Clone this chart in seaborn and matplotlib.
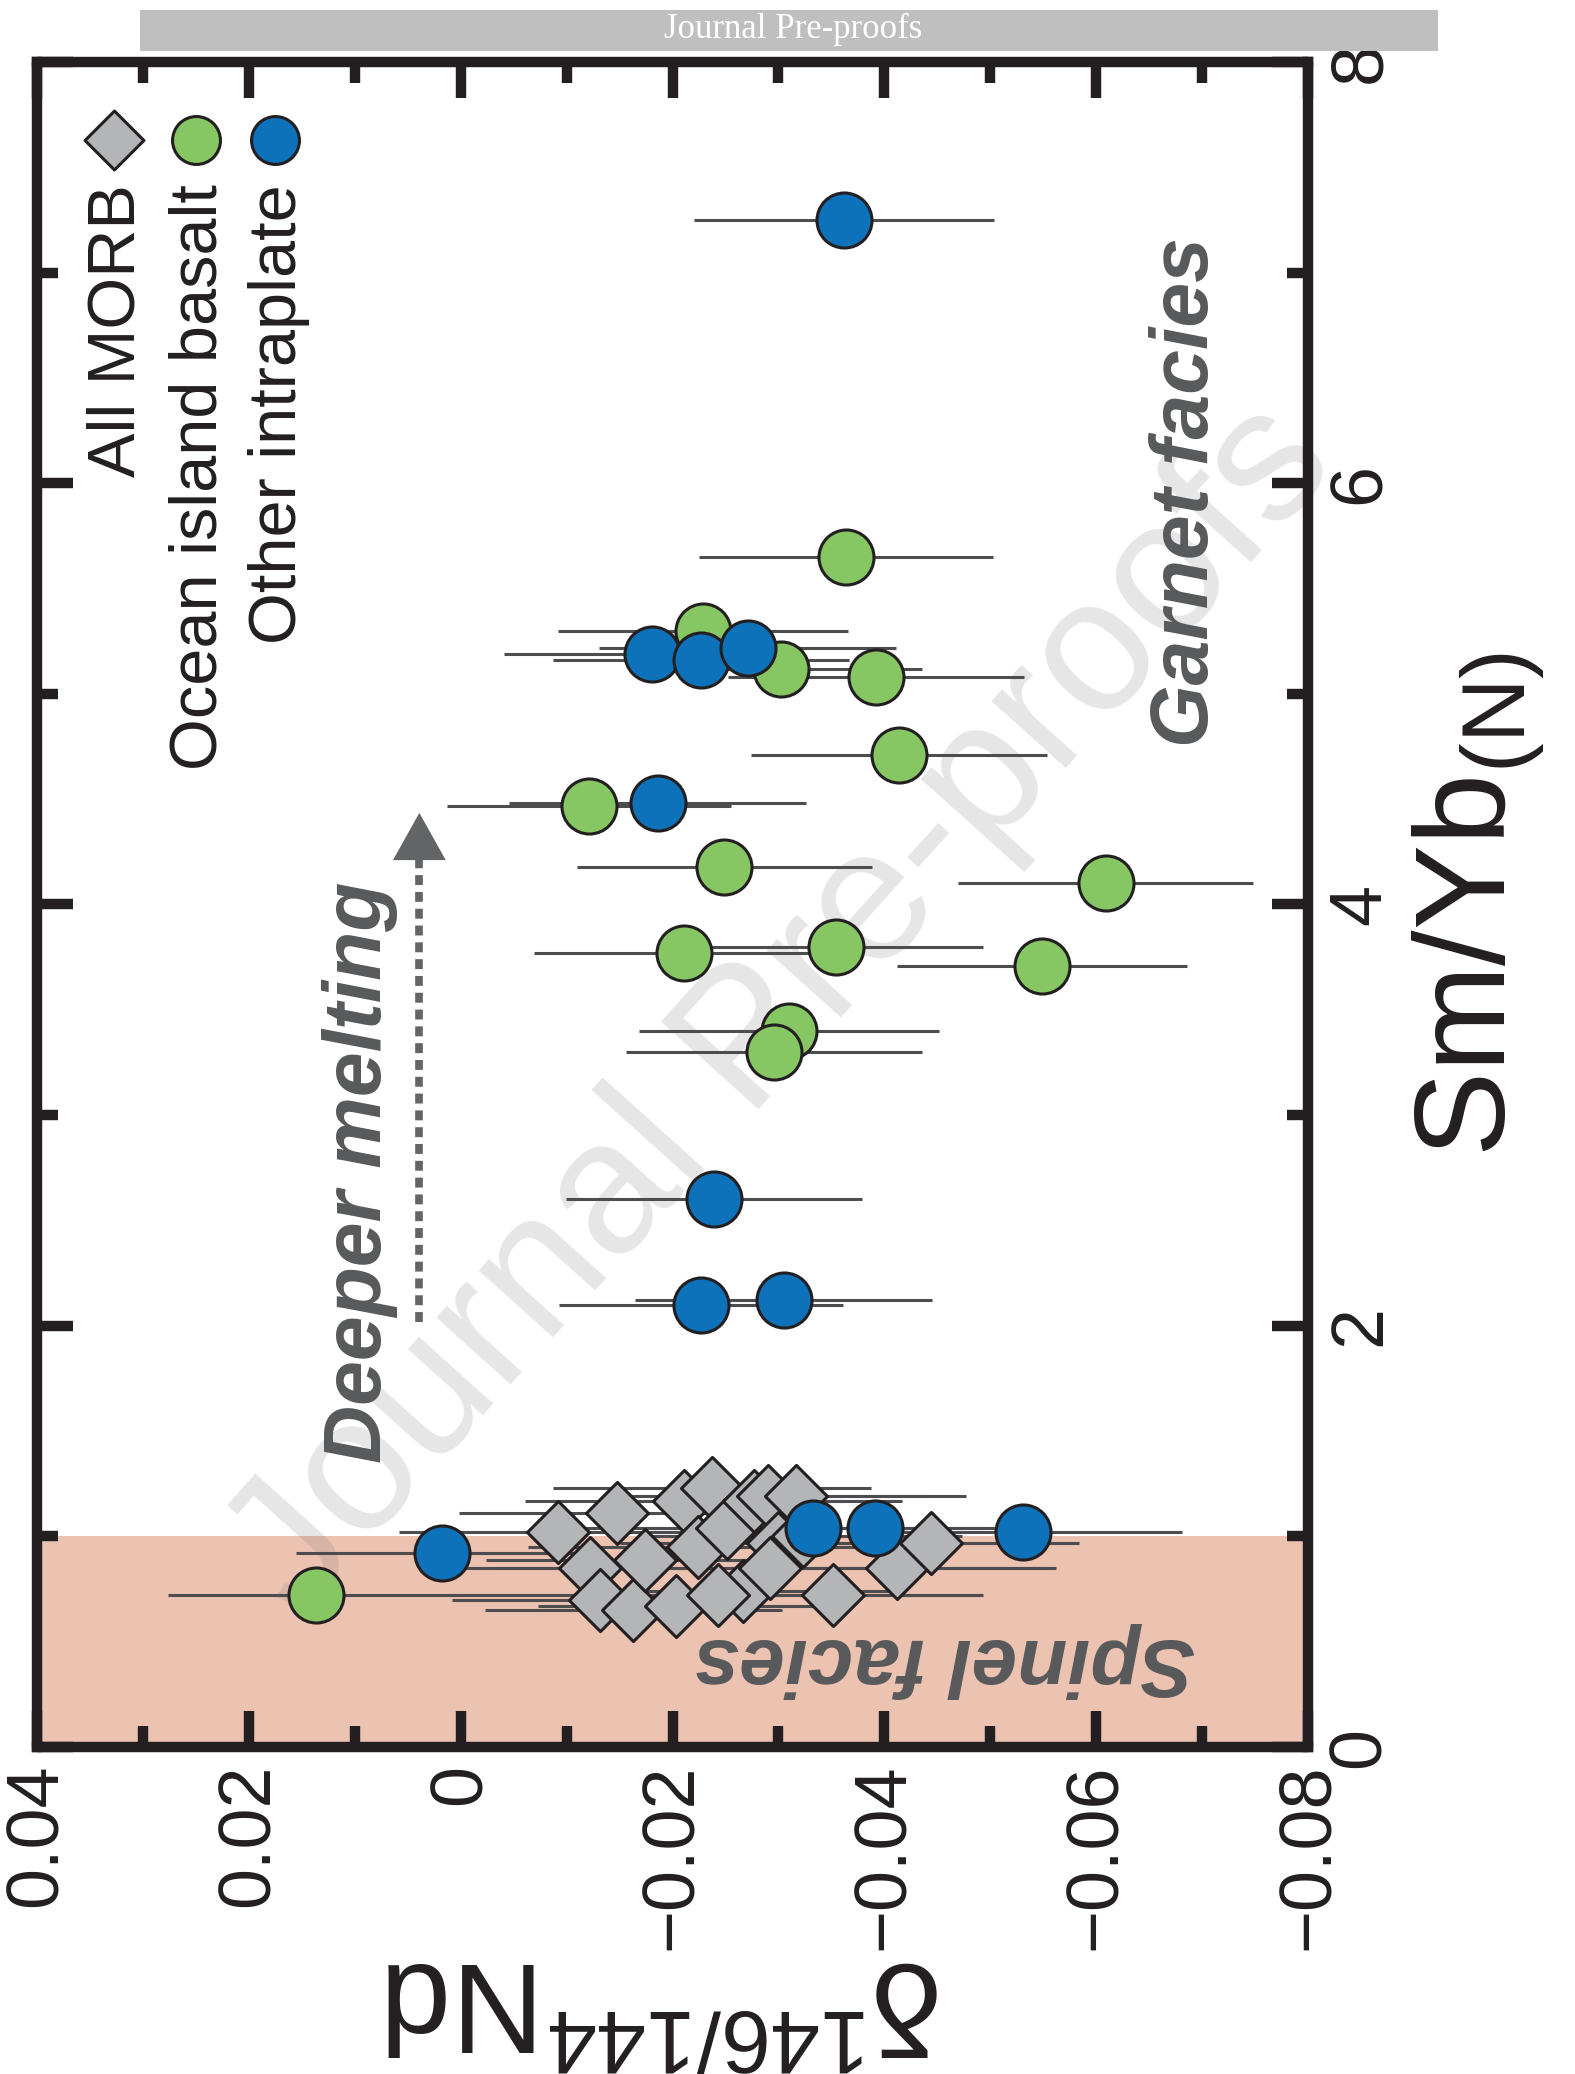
import matplotlib
matplotlib.use("Agg")
import matplotlib.pyplot as plt
import seaborn as sns
import pandas as pd
from matplotlib.patches import Rectangle, FancyArrowPatch
from matplotlib.ticker import MultipleLocator

# ---------------- data ----------------
# All MORB (grey diamonds)
morb_delta = [-0.0092, -0.0148, -0.0122, -0.0132, -0.0163, -0.0174, -0.0203, -0.0211,
              -0.0237, -0.0224, -0.0251, -0.0277, -0.0290, -0.0317, -0.0267, -0.0300,
              -0.0323, -0.0352, -0.0412, -0.0444, -0.0292, -0.0243]
morb_smyb = [1.02, 1.11, 0.85, 0.70, 0.65, 0.89, 0.67, 1.17,
             1.23, 0.95, 1.04, 1.17, 1.19, 1.19, 0.74, 0.97,
             1.00, 0.72, 0.85, 0.97, 0.85, 0.72]
morb_err = [0.015, 0.015, 0.015, 0.014, 0.014, 0.015, 0.013, 0.015,
            0.015, 0.016, 0.015, 0.014, 0.015, 0.016, 0.014, 0.015,
            0.015, 0.014, 0.015, 0.014, 0.026, 0.025]

# Ocean island basalt (green circles)
oib_delta = [-0.0364, -0.0229, -0.0302, -0.0392, -0.0414, -0.0121, -0.0249,
             -0.0609, -0.0211, -0.0354, -0.0549, -0.0310, -0.0296, 0.0137]
oib_smyb = [5.65, 5.30, 5.12, 5.08, 4.71, 4.47, 4.18,
            4.10, 3.77, 3.80, 3.71, 3.40, 3.30, 0.72]
oib_err = [0.0139, 0.0137, 0.0134, 0.0140, 0.0140, 0.0134, 0.0139,
           0.0139, 0.0142, 0.0139, 0.0137, 0.0142, 0.0140, 0.0139]

# Other intraplate (blue circles)
ip_delta = [-0.0362, -0.0181, -0.0227, -0.0271, -0.0186, -0.0239,
            -0.0227, -0.0305, 0.0018, -0.0333, -0.0391, -0.0531]
ip_smyb = [7.25, 5.19, 5.16, 5.22, 4.48, 2.60,
           2.10, 2.12, 0.92, 1.04, 1.04, 1.02]
ip_err = [0.0142, 0.0140, 0.0140, 0.0140, 0.0140, 0.0140,
          0.0134, 0.0140, 0.0137, 0.0160, 0.0150, 0.0150]

group_names = ["All MORB", "Ocean island basalt", "Other intraplate"]
spinel_limits = [0, 1]

xticks = [0.04, 0.02, 0.0, -0.02, -0.04, -0.06, -0.08]
xtick_labels = ["0.04", "0.02", "0", "\u22120.02", "\u22120.04", "\u22120.06", "\u22120.08"]
yticks = [0, 2, 4, 6, 8]
ytick_labels = ["0", "2", "4", "6", "8"]

# ---------------- style ----------------
sns.set_theme(style="white")
plt.rcParams["font.family"] = ["Liberation Sans", "DejaVu Sans"]
plt.rcParams["mathtext.fontset"] = "custom"
plt.rcParams["mathtext.rm"] = "Liberation Sans"
plt.rcParams["mathtext.it"] = "Liberation Sans:italic"
plt.rcParams["mathtext.bf"] = "Liberation Sans:bold"
plt.rcParams["mathtext.default"] = "regular"

INK = "#231F20"
GREY_TXT = "#58595B"
ERR_C = "#4D4D4F"
C_MORB = "#B3B5B7"
C_OIB = "#86C763"
C_IP = "#0E72BA"
C_SPINEL = "#ECC2B1"

W, H = 1575, 2074
L, R, T, B = 37, 1308, 62, 1747
fig = plt.figure(figsize=(W / 100, H / 100), dpi=100)
fig.patch.set_facecolor("white")
ax = fig.add_axes([L / W, 1 - B / H, (R - L) / W, (B - T) / H])
ax.set_facecolor("white")

# spinel field
ax.axhspan(spinel_limits[0], spinel_limits[1], color=C_SPINEL, lw=0, zorder=0)

df = pd.concat([
    pd.DataFrame({"delta": morb_delta, "smyb": morb_smyb, "err": morb_err, "group": group_names[0]}),
    pd.DataFrame({"delta": oib_delta, "smyb": oib_smyb, "err": oib_err, "group": group_names[1]}),
    pd.DataFrame({"delta": ip_delta, "smyb": ip_smyb, "err": ip_err, "group": group_names[2]}),
], ignore_index=True)

for grp in group_names:
    g = df[df["group"] == grp]
    ax.errorbar(g["delta"], g["smyb"], xerr=g["err"], fmt="none", ecolor=ERR_C,
                elinewidth=2.2, capsize=0, zorder=2)

styles = [(group_names[0], "D", 1000, C_MORB),
          (group_names[1], "o", 1570, C_OIB),
          (group_names[2], "o", 1570, C_IP)]
for grp, mk, size, col in styles:
    sns.scatterplot(data=df[df["group"] == grp], x="delta", y="smyb", marker=mk, s=size,
                    color=col, edgecolor=INK, linewidth=2.2, zorder=3, legend=False, ax=ax)

# axes limits / ticks
ax.set_xlim(0.04, -0.08)
ax.set_ylim(0, 8)
ax.set_xticks(xticks)
ax.set_xticklabels(xtick_labels, rotation=90)
ax.xaxis.set_minor_locator(MultipleLocator(0.01))
ax.set_yticks(yticks)
ax.set_yticklabels(ytick_labels, rotation=90, va="center")
ax.yaxis.set_minor_locator(MultipleLocator(1))
ax.tick_params(which="both", direction="in", top=True, bottom=True, left=True, right=True,
               width=7.5, color=INK)
ax.tick_params(which="major", length=26)
ax.tick_params(which="minor", length=15)
ax.tick_params(axis="x", labelsize=53, pad=12, labelbottom=True, labeltop=False, labelcolor=INK)
ax.tick_params(axis="y", labelsize=53, pad=13, labelleft=False, labelright=True, labelcolor=INK)
for s in ax.spines.values():
    s.set_linewidth(7.5)
    s.set_color(INK)
    s.set_zorder(4)

ax.set_xlabel("\u03b4$^{146/144}$Nd", fontsize=92, rotation=180, color=INK)
ax.xaxis.set_label_coords(0.494, -0.1116)
ax.set_ylabel("Sm/Yb$_{(N)}$", fontsize=92, color=INK)
ax.yaxis.set_label_position("right")
ax.yaxis.set_label_coords(1.0803, 0.5)

# annotations
ax.text(-0.0457, 0.413, "Spinel facies", rotation=180, ha="center", va="center",
        fontsize=59, fontweight="bold", fontstyle="italic", color=GREY_TXT, zorder=3)
ax.text(-0.0686, 5.96, "Garnet facies", rotation=90, ha="center", va="center",
        fontsize=58, fontweight="bold", fontstyle="italic", color=GREY_TXT, zorder=3)
ax.text(0.0095, 2.73, "Deeper melting", rotation=90, ha="center", va="center",
        fontsize=58, fontweight="bold", fontstyle="italic", color=GREY_TXT, zorder=3)

ARROW_C = "#636466"
arrow_x = 0.0039
ax.plot([arrow_x, arrow_x], [2.02, 4.21], ls=(0, (1.3, 0.9)), lw=5.5, color=ARROW_C,
        dash_capstyle="butt", zorder=2)
ax.add_patch(FancyArrowPatch((arrow_x, 4.15), (arrow_x, 4.435),
                             arrowstyle="-|>,head_length=34,head_width=19", mutation_scale=1,
                             color=ARROW_C, lw=0, shrinkA=0, shrinkB=0, zorder=2))

# legend (rotated with the figure)
leg_y = 0.9537
leg_items = [(0.0606, "D", 900, C_MORB, group_names[0]),
             (0.1251, "o", 1190, C_OIB, group_names[1]),
             (0.1873, "o", 1190, C_IP, group_names[2])]
for lx, mk, size, col, lab in leg_items:
    ax.scatter([lx], [leg_y], marker=mk, s=size, c=col, edgecolors=INK, linewidths=2.2,
               transform=ax.transAxes, clip_on=False, zorder=5)
    ax.text(lx + 0.0031, 0.9275, lab, rotation=90, ha="center", va="top", fontsize=48,
            color=INK, transform=ax.transAxes, zorder=5)

# watermark
ax.text(0.497, 0.513, "Journal Pre-proofs", transform=fig.transFigure, rotation=48,
        rotation_mode="anchor", ha="center", va="center", fontsize=136,
        color=(0.42, 0.42, 0.42), alpha=0.17, zorder=1.5, clip_on=False)

# banner
fig.patches.append(Rectangle((140 / W, 1 - 51 / H), 1298 / W, 41 / H, transform=fig.transFigure,
                             facecolor="#BFBFBF", edgecolor="none", zorder=5))
fig.text(793 / W, 1 - 29 / H, "Journal Pre-proofs", ha="center", va="center", color="white",
         fontsize=25, family=["Liberation Serif", "DejaVu Serif"], zorder=6)

fig.savefig("out.png", dpi=100)
